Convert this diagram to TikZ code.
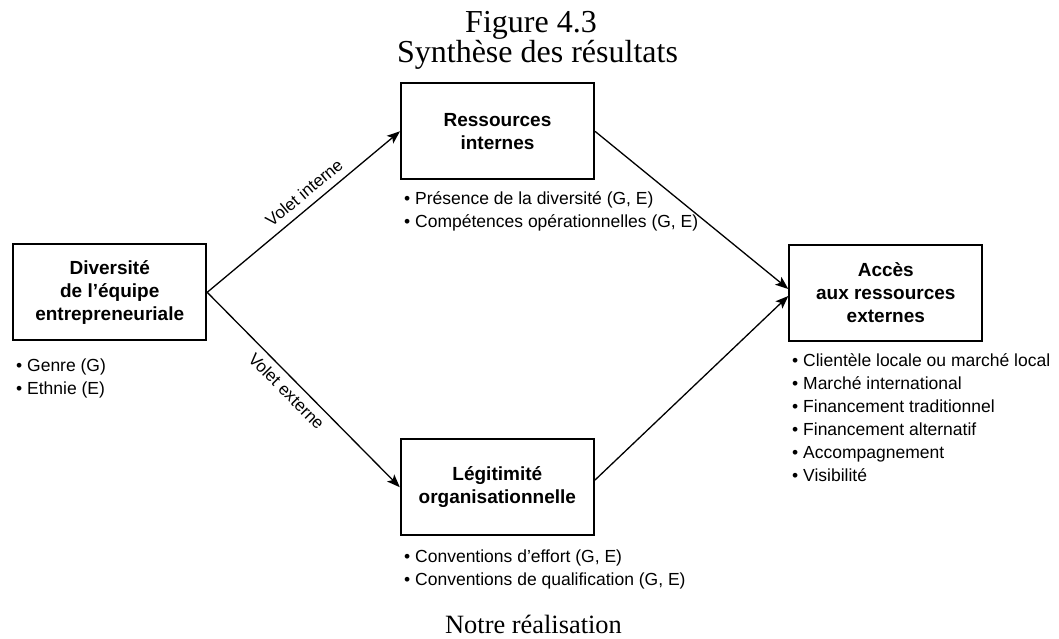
\documentclass[tikz,border=0pt]{standalone}
\usepackage{fontspec}
\setmainfont{Liberation Sans}
\newfontfamily\serifface{Liberation Serif}
\usetikzlibrary{arrows.meta}

\begin{document}
\begin{tikzpicture}[x=1pt,y=-1pt,
  box/.style={draw, line width=2pt, minimum width=193pt, minimum height=96pt,
    align=center, inner sep=0pt, font=\bfseries\fontsize{19}{23}\selectfont},
  item/.style={anchor=base west, inner sep=0pt, font=\fontsize{17.5}{21}\selectfont},
  link/.style={line width=1.3pt, -{Stealth[length=13pt,width=10pt,inset=3pt]}},
  tag/.style={font=\fontsize{17}{20}\selectfont, sloped, inner sep=0pt},
  caption/.style={anchor=base, inner sep=0pt, font=\serifface\fontsize{32}{32}\selectfont}]
\useasboundingbox (0,0) rectangle (1059,638);

% headings
\node[caption] (fig) at (531,32) {Figure 4.3};
\node[caption] (syn) at (537.5,62) {Synthèse des résultats};
\node[caption, font=\serifface\fontsize{26.4}{28}\selectfont] (src) at (533.5,633) {Notre réalisation};

% the four blocks
\node[box] (div) at (109.7,292.3) {Diversité\\de l’équipe\\entrepreneuriale};
\node[box] (res) at (497.5,131.3) {Ressources\\internes};
\node[box] (leg) at (497.3,487.2) {Légitimité\\organisationnelle};
\node[box] (acc) at (885.8,292.5) {Accès\\aux ressources\\externes};

% bullet lists under the blocks
\node[item] (d1) at (16,371) {• Genre (G)};
\node[item] (d2) at (16,394) {• Ethnie (E)};

\node[item] (r1) at (404,204) {• Présence de la diversité (G, E)};
\node[item] (r2) at (404,227.5) {• Compétences opérationnelles (G, E)};

\node[item] (l1) at (404,562) {• Conventions d’effort (G, E)};
\node[item] (l2) at (404,585) {• Conventions de qualification (G, E)};

\node[item] (a1) at (792,366) {• Clientèle locale ou marché local};
\node[item] (a2) at (792,389) {• Marché international};
\node[item] (a3) at (792,412) {• Financement traditionnel};
\node[item] (a4) at (792,435) {• Financement alternatif};
\node[item] (a5) at (792,458) {• Accompagnement};
\node[item] (a6) at (792,481) {• Visibilité};

% connectors
\draw[link] (div.east) -- node[tag, above=7.5pt, pos=0.55] {Volet interne} (res.west);
\draw[link] (div.east) -- node[tag, below=6pt, pos=0.46] {Volet externe} (leg.west);
\draw[link] (res.east) -- ([yshift=3.5pt]acc.west);
\draw[link] ([yshift=7pt]leg.east) -- ([yshift=-3.5pt]acc.west);
\end{tikzpicture}
\end{document}
